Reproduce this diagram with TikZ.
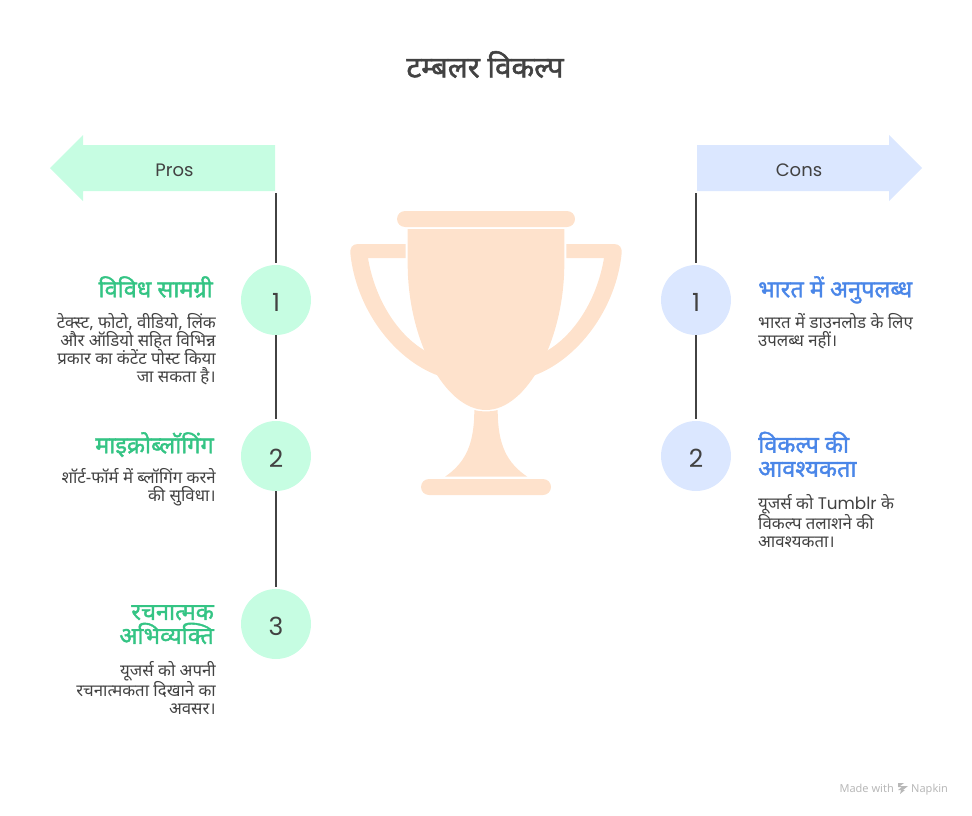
\documentclass[tikz,border=0pt]{standalone}
\usepackage{fontspec}
\setmainfont{Noto Sans}
\newfontfamily\hindi[Script=Devanagari]{Noto Sans}
\newfontfamily\hindibold[Script=Devanagari,FakeBold=1.6]{Noto Sans}
\newfontfamily\latinhand{Poppins}
\usepackage{xcolor}
\definecolor{ink}{HTML}{424242}
\definecolor{greenfill}{HTML}{C6FDE2}
\definecolor{bluefill}{HTML}{DBE7FF}
\definecolor{greenhead}{HTML}{34C484}
\definecolor{bluehead}{HTML}{4A86E8}
\definecolor{cupfill}{HTML}{FEE2CC}
\definecolor{markgray}{HTML}{B8B8B8}
\tikzset{
  numdot/.style={circle,minimum size=70pt,inner sep=0pt,outer sep=2pt,text=ink,text height=22pt,text depth=0pt,font=\latinhand\fontsize{25}{25}\selectfont},
  greendot/.style={numdot,fill=greenfill},
  bluedot/.style={numdot,fill=bluefill},
  spine/.style={draw=ink,line width=1.7pt},
  dotlink/.style={spine,shorten <=-2pt},
  bannertext/.style={text=ink,font=\latinhand\fontsize{18}{18}\selectfont},
  lefthead/.style={anchor=north east,align=right,inner sep=0pt,text=greenhead,font=\hindibold\fontsize{23.5}{24}\selectfont},
  righthead/.style={anchor=north west,align=left,inner sep=0pt,text=bluehead,font=\hindibold\fontsize{23.5}{24}\selectfont},
  leftbody/.style={anchor=north east,align=right,inner sep=0pt,text=ink,font=\hindi\fontsize{16.8}{18}\selectfont},
  rightbody/.style={anchor=north west,align=left,inner sep=0pt,text=ink,font=\hindi\fontsize{16.8}{18}\selectfont},
  markfont/.style={inner sep=0pt,text=markgray,font=\fontsize{11}{11}\selectfont},
}
\begin{document}
\begin{tikzpicture}[x=1pt,y=-1pt]
\useasboundingbox (0,0) rectangle (972,816);

\node [text=ink,font=\hindibold\fontsize{29.5}{30}\selectfont] (title) at (485,64.5) {टम्बलर विकल्प};

% banners
\fill [greenfill] (50,168) -- (83,135) -- (83,145) -- (275,145) -- (275,191) -- (83,191) -- (83,201) -- cycle;
\fill [bluefill] (922,168) -- (889,135) -- (889,145) -- (697,145) -- (697,191) -- (889,191) -- (889,201) -- cycle;
\node [bannertext] (pros) at (174.5,170) {Pros};
\node [bannertext] (cons) at (799,170) {Cons};
\coordinate (prostail) at (276,193);
\coordinate (constail) at (696,193);

% trophy
\fill [cupfill,rounded corners=8pt] (397,211) rectangle (575,227);
\fill [cupfill] (407.7,229) -- (564.3,229) -- (564.3,265) .. controls (564,340) and (527,410) .. (486,410) .. controls (445,410) and (408,340) .. (407.7,265) -- cycle;
\fill [cupfill] (405.7,244) -- (358,244) .. controls (352,244) and (350,248) .. (350.3,253) .. controls (356,310) and (395,360) .. (438.5,375.7) -- (425,350.7) .. controls (398,335) and (375,300) .. (368,258) -- (405.7,258) -- cycle;
\fill [cupfill] (566.3,244) -- (614,244) .. controls (620,244) and (622,248) .. (621.7,253) .. controls (616,310) and (577,360) .. (533.5,375.7) -- (547,350.7) .. controls (574,335) and (597,300) .. (604,258) -- (566.3,258) -- cycle;
\fill [cupfill] (474.3,410) .. controls (482,412) and (490,412) .. (497.7,410) .. controls (497.7,445) and (507,463) .. (527.3,476.7) -- (445,476.7) .. controls (465,463) and (474.3,445) .. (474.3,410) -- cycle;
\fill [cupfill,rounded corners=8pt] (421,479) rectangle (551,495);

% pros column
\node [greendot] (p1) at (276,300) {1};
\node [greendot] (p2) at (276,456) {2};
\node [greendot] (p3) at (276,624) {3};
\draw [spine] (prostail) -- (p1);
\draw [dotlink] (p1) -- (p2);
\draw [dotlink] (p2) -- (p3);

\node [lefthead] (ph1) at (213,276) {विविध सामग्री};
\node [leftbody] (pb1) at (216,313) {टेक्स्ट, फोटो, वीडियो, लिंक\\और ऑडियो सहित विभिन्न\\प्रकार का कंटेंट पोस्ट किया\\जा सकता है।};
\node [lefthead] (ph2) at (214,432) {माइक्रोब्लॉगिंग};
\node [leftbody] (pb2) at (216,468) {शॉर्ट-फॉर्म में ब्लॉगिंग करने\\की सुविधा।};
\node [lefthead] (ph3) at (214,605) {रचनात्मक\\अभिव्यक्ति};
\node [leftbody] (pb3) at (216,661) {यूजर्स को अपनी\\रचनात्मकता दिखाने का\\अवसर।};

% cons column
\node [bluedot] (c1) at (696,300) {1};
\node [bluedot] (c2) at (696,456) {2};
\draw [spine] (constail) -- (c1);
\draw [dotlink] (c1) -- (c2);

\node [righthead] (ch1) at (758,276) {भारत में अनुपलब्ध};
\node [rightbody] (cb1) at (758,313) {भारत में डाउनलोड के लिए\\उपलब्ध नहीं।};
\node [righthead] (ch2) at (758,431.5) {विकल्प की\\आवश्यकता};
\node [rightbody] (cb2) at (758,494) {यूजर्स को {\latinhand Tumblr} के\\विकल्प तलाशने की\\आवश्यकता।};

% footer
\node [markfont,anchor=base east] (madewith) at (894,792) {Made with};
\node [markfont,anchor=base west] (napkin) at (911,792) {Napkin};
\fill [markgray] (898,783) -- (904,783) -- (900,786) -- (908,786) -- (903,790) -- (905,790) -- (900,794) -- (901,790) -- (898,790) -- (902,787) -- (898,787) -- cycle;
\end{tikzpicture}
\end{document}
